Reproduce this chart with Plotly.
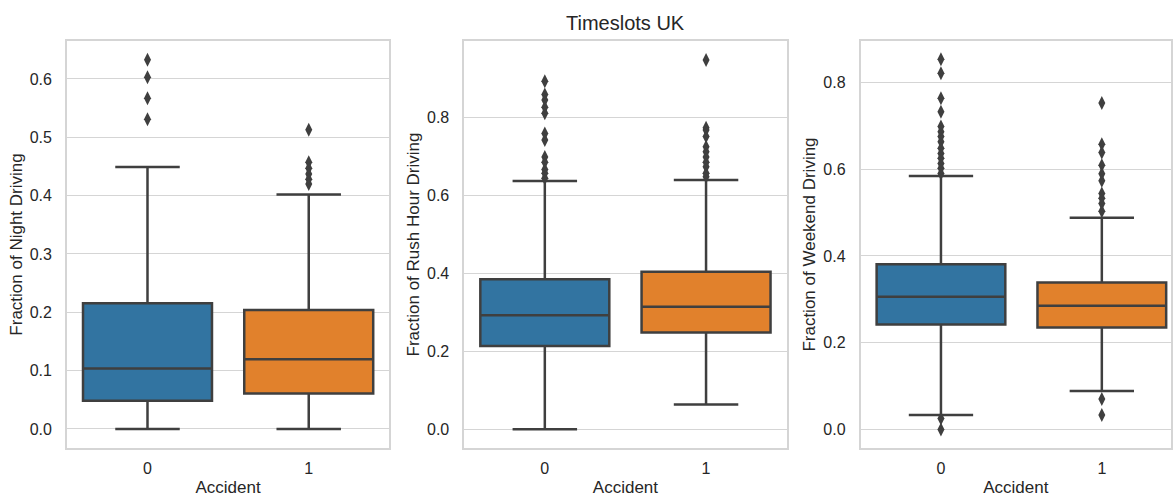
import plotly.graph_objects as go

# ---------------- data ----------------
categories = [0, 1]
panel_titles = ["Fraction of Night Driving", "Fraction of Rush Hour Driving", "Fraction of Weekend Driving"]

night_q1 = [0.0486, 0.0606]
night_median = [0.1035, 0.1195]
night_q3 = [0.2156, 0.2040]
night_low = [0.0, 0.0]
night_high = [0.449, 0.402]
night_out0 = [0.633, 0.603, 0.567, 0.531]
night_out1 = [0.513, 0.457, 0.447, 0.437, 0.428, 0.420]

rush_q1 = [0.2137, 0.2480]
rush_median = [0.2920, 0.3137]
rush_q3 = [0.3846, 0.4035]
rush_low = [0.0, 0.0632]
rush_high = [0.636, 0.6385]
rush_out0 = [0.892, 0.858, 0.844, 0.825, 0.810, 0.758, 0.741, 0.698, 0.684, 0.666, 0.656, 0.643]
rush_out1 = [0.946, 0.773, 0.767, 0.750, 0.724, 0.711, 0.698, 0.684, 0.6725, 0.656, 0.647]

week_q1 = [0.242, 0.235]
week_median = [0.3057, 0.285]
week_q3 = [0.381, 0.339]
week_low = [0.0337, 0.089]
week_high = [0.584, 0.488]
week_out0 = [0.853, 0.821, 0.763, 0.732, 0.698, 0.686, 0.675, 0.663, 0.648, 0.636,
             0.625, 0.613, 0.602, 0.590, 0.0254, 0.0]
week_out1 = [0.752, 0.657, 0.638, 0.609, 0.589, 0.573, 0.544, 0.533, 0.521, 0.503, 0.0706, 0.0337]

colors = ["#3274a1", "#e1812c"]
line_col = "#3f3f3f"
text_col = "#262626"
grid_col = "#d5d5d5"

panels = [
    (night_q1, night_median, night_q3, night_low, night_high, [night_out0, night_out1]),
    (rush_q1, rush_median, rush_q3, rush_low, rush_high, [rush_out0, rush_out1]),
    (week_q1, week_median, week_q3, week_low, week_high, [week_out0, week_out1]),
]

W, H = 1173, 499
x_domains = [[67 / W, 390 / W], [465 / W, 788 / W], [862 / W, 1.0]]
x_ranges = [[-0.5, 1.5], [-0.5, 1.5], [-0.5, 1.43]]
y_ranges = [[-0.0326, 0.665], [-0.048, 0.995], [-0.0424, 0.895]]
y_dticks = [0.1, 0.2, 0.2]
y_dom = [1 - 448 / H, 1 - 41 / H]

fig = go.Figure()
for p, (q1, med, q3, lo, hi, outs) in enumerate(panels):
    xa = "x" if p == 0 else f"x{p+1}"
    ya = "y" if p == 0 else f"y{p+1}"
    for i, c in enumerate(categories):
        fig.add_trace(go.Box(
            x=[c], q1=[q1[i]], median=[med[i]], q3=[q3[i]],
            lowerfence=[lo[i]], upperfence=[hi[i]],
            width=0.8, whiskerwidth=0.5,
            fillcolor=colors[i], line=dict(color=line_col, width=2.5),
            boxpoints=False, showlegend=False, xaxis=xa, yaxis=ya,
            hoverinfo="skip",
        ))
        fig.add_trace(go.Scatter(
            x=[c] * len(outs[i]), y=outs[i], mode="markers",
            marker=dict(symbol="diamond-tall", size=10, color=line_col,
                        line=dict(width=0)),
            showlegend=False, xaxis=xa, yaxis=ya, hoverinfo="skip",
        ))

fam = "Liberation Sans, Arial, sans-serif"
tick_font = dict(family=fam, size=16, color=text_col)
label_font = dict(family=fam, size=17, color=text_col)
layout = dict(
    width=W, height=H, margin=dict(l=0, r=0, t=0, b=0),
    paper_bgcolor="white", plot_bgcolor="white", boxmode="overlay",
    font=label_font,
)
for p in range(3):
    sx = "" if p == 0 else str(p + 1)
    layout["xaxis" + sx] = dict(
        domain=x_domains[p], range=x_ranges[p], tickvals=categories,
        ticktext=[str(c) for c in categories], showgrid=False, zeroline=False,
        showline=True, mirror=True, linecolor=grid_col, linewidth=1.5,
        ticks="", ticklabelstandoff=5, tickfont=tick_font,
        title=dict(text="Accident", font=label_font, standoff=5),
        anchor="y" + sx,
    )
    layout["yaxis" + sx] = dict(
        domain=y_dom, range=y_ranges[p], dtick=y_dticks[p], tick0=0,
        tickformat=".1f", showgrid=True, gridcolor=grid_col, gridwidth=1.2,
        zeroline=False, showline=True, mirror=True, linecolor=grid_col,
        linewidth=1.5, ticks="", ticklabelstandoff=10, tickfont=tick_font,
        title=dict(text=panel_titles[p], font=label_font, standoff=3),
        anchor="x" + sx,
    )
fig.update_layout(**layout)
fig.add_annotation(
    text="Timeslots UK", x=626.5 / W, y=1 - 23 / H, xref="paper", yref="paper",
    showarrow=False, xanchor="center", yanchor="middle",
    font=dict(family=fam, size=20, color=text_col),
)
fig.write_html("out.html")
